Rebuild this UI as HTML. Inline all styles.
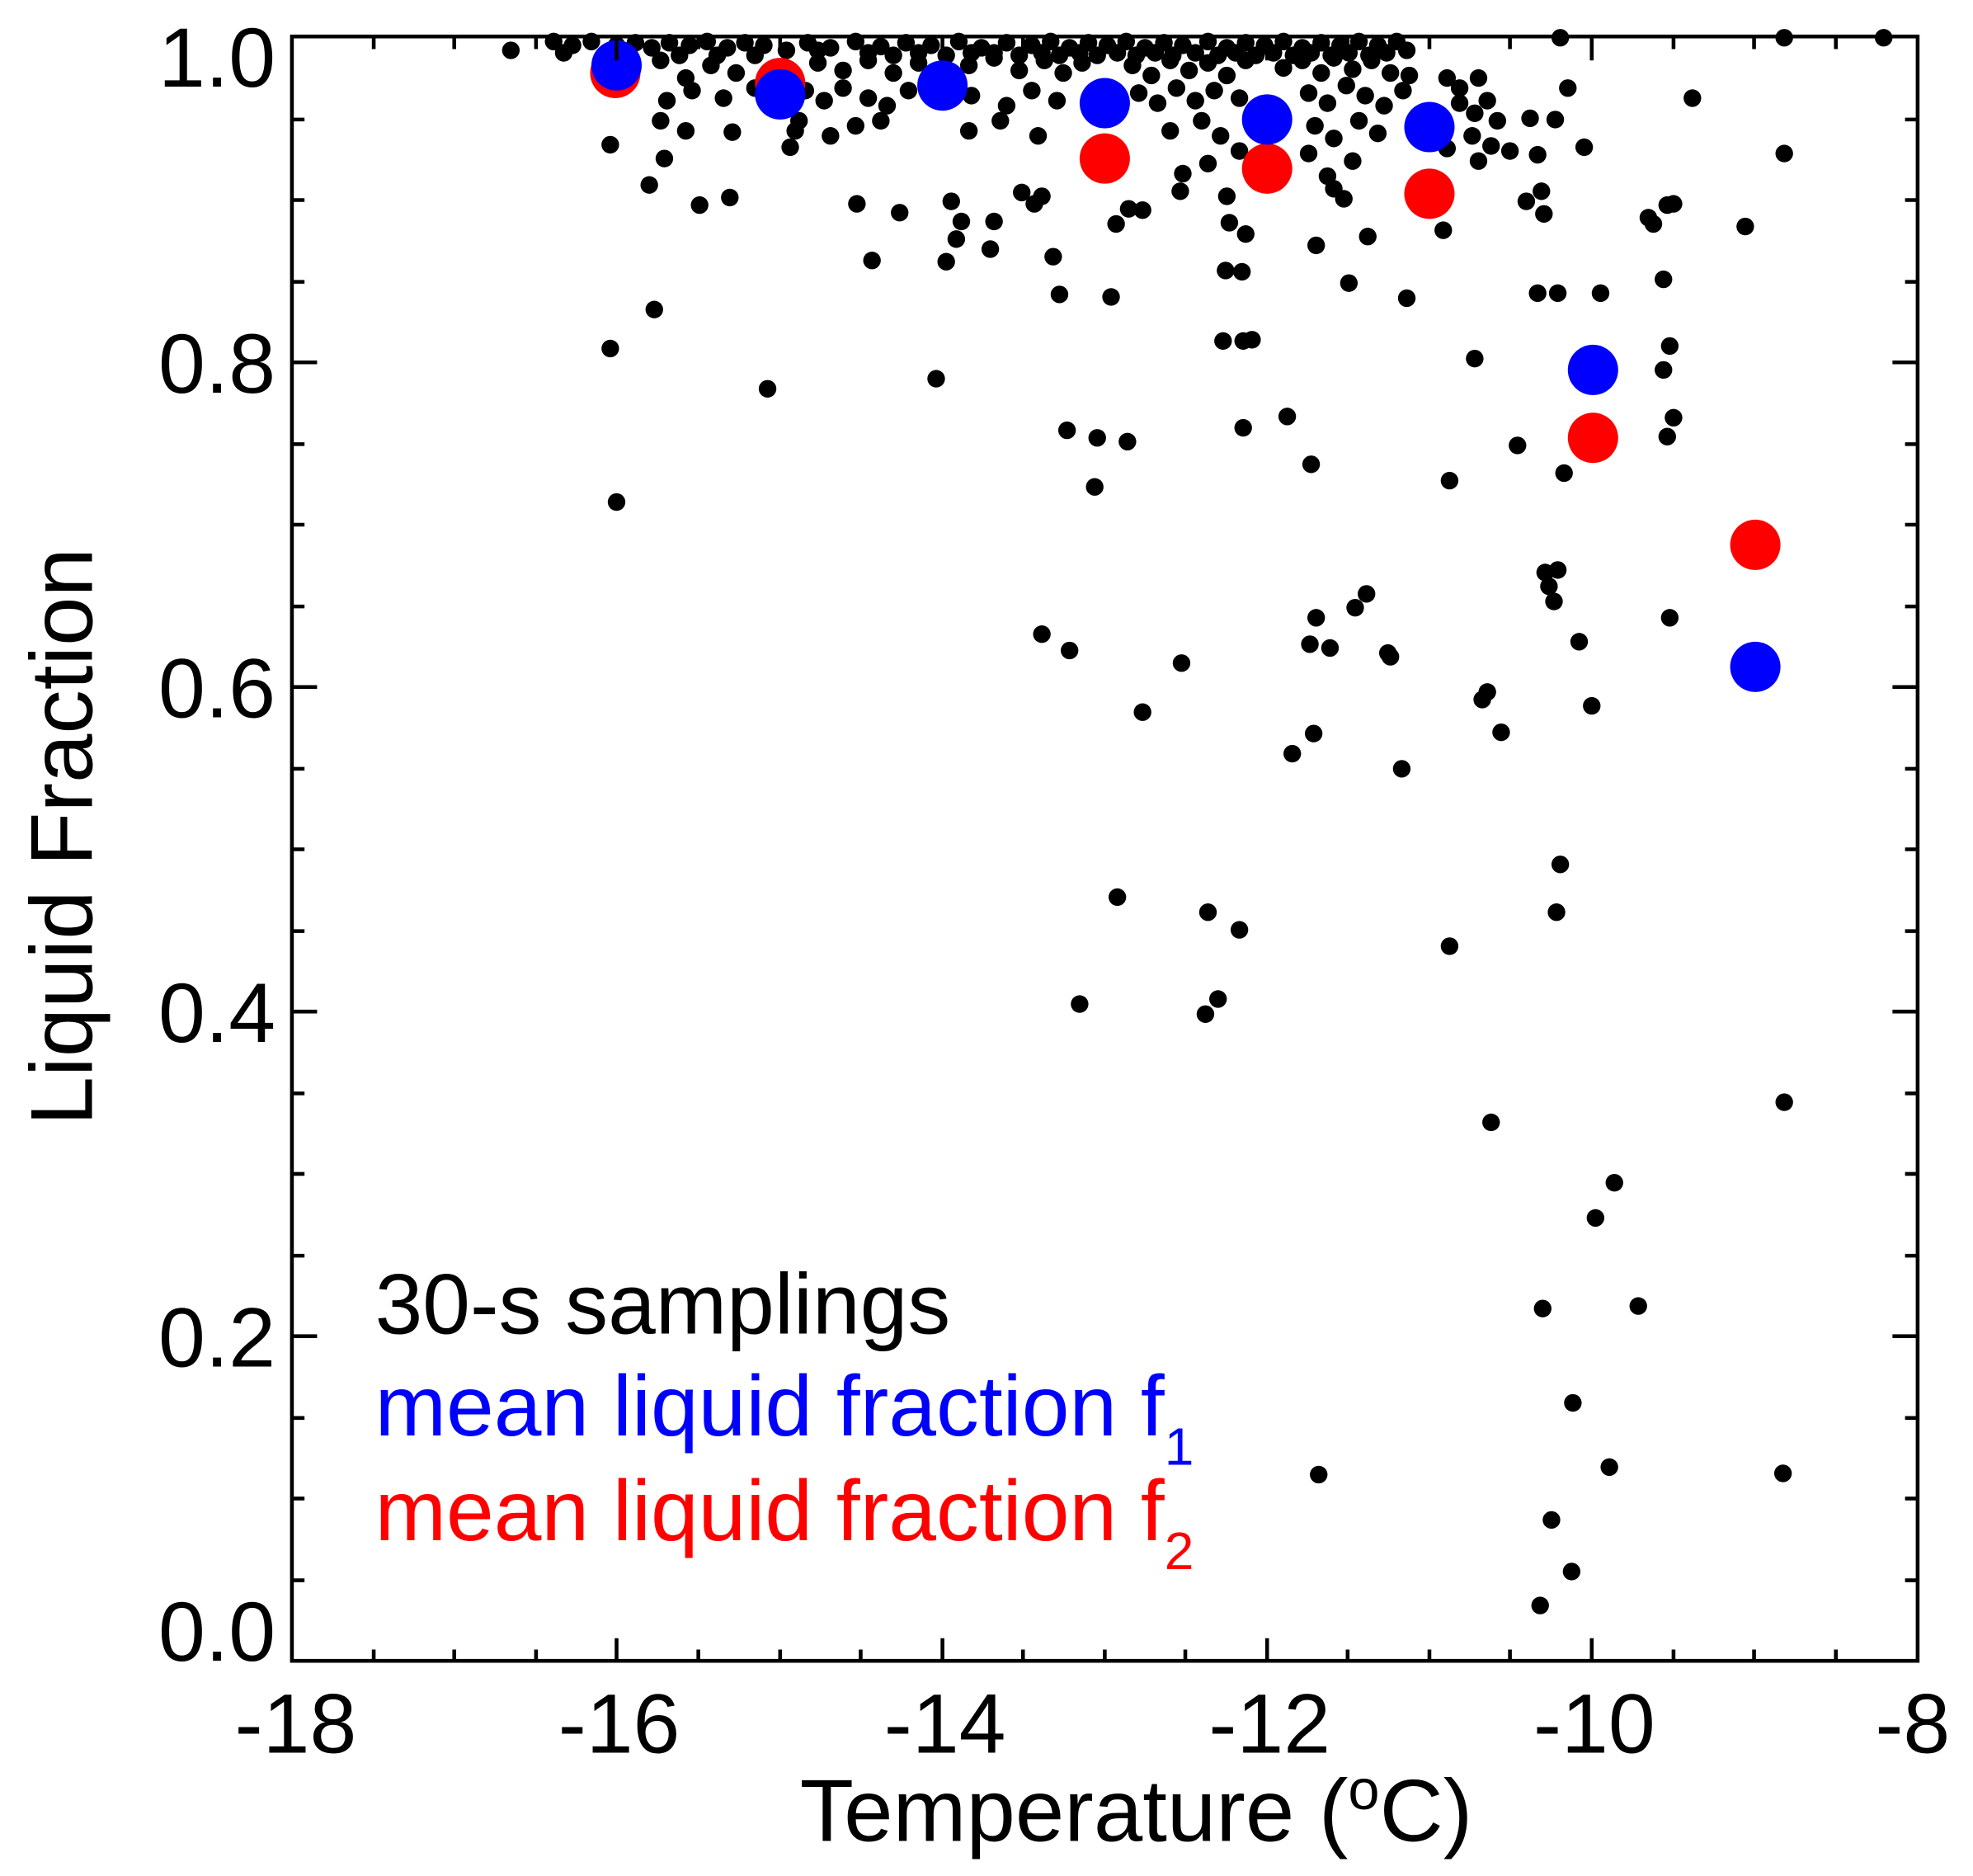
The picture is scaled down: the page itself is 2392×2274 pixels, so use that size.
<!DOCTYPE html>
<html><head><meta charset="utf-8"><style>
html,body{margin:0;padding:0;background:#fff;}
svg{display:block;}
text{font-family:"Liberation Sans",Arial,sans-serif;}
</style></head><body>
<svg width="2392" height="2274" viewBox="0 0 1568 1491" preserveAspectRatio="none" xmlns="http://www.w3.org/2000/svg">
<g fill="#000">
<!-- dense top band -->
<circle cx="440" cy="33" r="7"/><circle cx="455" cy="36" r="7"/><circle cx="470" cy="33" r="7"/><circle cx="505" cy="34" r="7"/><circle cx="518" cy="38" r="7"/><circle cx="532" cy="34" r="7"/><circle cx="548" cy="36" r="7"/><circle cx="562" cy="33" r="7"/><circle cx="578" cy="38" r="7"/><circle cx="592" cy="34" r="7"/><circle cx="607" cy="36" r="7"/><circle cx="642" cy="34" r="7"/><circle cx="660" cy="38" r="7"/><circle cx="680" cy="33" r="7"/><circle cx="700" cy="37" r="7"/><circle cx="720" cy="34" r="7"/><circle cx="740" cy="36" r="7"/><circle cx="762" cy="33" r="7"/><circle cx="780" cy="38" r="7"/><circle cx="800" cy="34" r="7"/><circle cx="820" cy="36" r="7"/><circle cx="835" cy="33" r="7"/><circle cx="850" cy="38" r="7"/><circle cx="865" cy="34" r="7"/><circle cx="880" cy="36" r="7"/><circle cx="895" cy="33" r="7"/><circle cx="910" cy="38" r="7"/><circle cx="925" cy="34" r="7"/><circle cx="940" cy="36" r="7"/><circle cx="960" cy="33" r="7"/><circle cx="975" cy="38" r="7"/><circle cx="990" cy="34" r="7"/><circle cx="1005" cy="36" r="7"/><circle cx="1020" cy="33" r="7"/><circle cx="1035" cy="38" r="7"/><circle cx="1050" cy="34" r="7"/><circle cx="1065" cy="36" r="7"/><circle cx="1080" cy="33" r="7"/><circle cx="1095" cy="36" r="7"/><circle cx="1110" cy="33" r="7"/>
<circle cx="448" cy="42" r="7"/><circle cx="490" cy="36" r="7"/><circle cx="540" cy="44" r="7"/><circle cx="570" cy="44" r="7"/><circle cx="600" cy="44" r="7"/><circle cx="625" cy="40" r="7"/><circle cx="650" cy="40" r="7"/><circle cx="690" cy="42" r="7"/><circle cx="710" cy="44" r="7"/><circle cx="730" cy="42" r="7"/><circle cx="752" cy="44" r="7"/><circle cx="772" cy="42" r="7"/><circle cx="790" cy="42" r="7"/><circle cx="810" cy="44" r="7"/><circle cx="828" cy="42" r="7"/><circle cx="842" cy="44" r="7"/><circle cx="858" cy="42" r="7"/><circle cx="872" cy="44" r="7"/><circle cx="888" cy="42" r="7"/><circle cx="903" cy="44" r="7"/><circle cx="918" cy="42" r="7"/><circle cx="932" cy="44" r="7"/><circle cx="950" cy="42" r="7"/><circle cx="968" cy="44" r="7"/><circle cx="982" cy="42" r="7"/><circle cx="998" cy="44" r="7"/><circle cx="1012" cy="42" r="7"/><circle cx="1028" cy="44" r="7"/><circle cx="1042" cy="42" r="7"/><circle cx="1058" cy="44" r="7"/><circle cx="1072" cy="42" r="7"/><circle cx="1088" cy="44" r="7"/><circle cx="1102" cy="42" r="7"/><circle cx="1118" cy="40" r="7"/>
<circle cx="525" cy="48" r="7"/><circle cx="545" cy="62" r="7"/><circle cx="565" cy="52" r="7"/><circle cx="585" cy="58" r="7"/><circle cx="650" cy="50" r="7"/><circle cx="670" cy="56" r="7"/><circle cx="690" cy="48" r="7"/><circle cx="710" cy="58" r="7"/><circle cx="730" cy="50" r="7"/><circle cx="770" cy="52" r="7"/><circle cx="790" cy="46" r="7"/><circle cx="810" cy="56" r="7"/><circle cx="830" cy="48" r="7"/><circle cx="845" cy="58" r="7"/><circle cx="860" cy="50" r="7"/><circle cx="900" cy="52" r="7"/><circle cx="915" cy="60" r="7"/><circle cx="930" cy="48" r="7"/><circle cx="945" cy="56" r="7"/><circle cx="960" cy="50" r="7"/><circle cx="975" cy="60" r="7"/><circle cx="990" cy="48" r="7"/><circle cx="1020" cy="54" r="7"/><circle cx="1035" cy="48" r="7"/><circle cx="1050" cy="58" r="7"/><circle cx="1060" cy="46" r="7"/><circle cx="1075" cy="55" r="7"/><circle cx="1090" cy="48" r="7"/><circle cx="1105" cy="58" r="7"/><circle cx="1120" cy="60" r="7"/><circle cx="1150" cy="62" r="7"/><circle cx="1160" cy="70" r="7"/><circle cx="1175" cy="62" r="7"/>
<circle cx="530" cy="80" r="7"/><circle cx="550" cy="72" r="7"/><circle cx="575" cy="78" r="7"/><circle cx="600" cy="70" r="7"/><circle cx="640" cy="72" r="7"/><circle cx="655" cy="80" r="7"/><circle cx="670" cy="70" r="7"/><circle cx="690" cy="78" r="7"/><circle cx="705" cy="84" r="7"/><circle cx="722" cy="72" r="7"/><circle cx="772" cy="76" r="7"/><circle cx="800" cy="84" r="7"/><circle cx="820" cy="72" r="7"/><circle cx="840" cy="80" r="7"/><circle cx="905" cy="74" r="7"/><circle cx="920" cy="82" r="7"/><circle cx="935" cy="70" r="7"/><circle cx="950" cy="80" r="7"/><circle cx="965" cy="72" r="7"/><circle cx="985" cy="78" r="7"/><circle cx="1040" cy="74" r="7"/><circle cx="1055" cy="82" r="7"/><circle cx="1070" cy="68" r="7"/><circle cx="1085" cy="76" r="7"/><circle cx="1100" cy="84" r="7"/><circle cx="1115" cy="72" r="7"/><circle cx="1160" cy="82" r="7"/><circle cx="1172" cy="90" r="7"/><circle cx="1182" cy="80" r="7"/><circle cx="1190" cy="96" r="7"/>
<circle cx="525" cy="96" r="7"/><circle cx="545" cy="104" r="7"/><circle cx="635" cy="96" r="7"/><circle cx="660" cy="108" r="7"/><circle cx="680" cy="100" r="7"/><circle cx="700" cy="96" r="7"/><circle cx="770" cy="104" r="7"/><circle cx="795" cy="96" r="7"/><circle cx="825" cy="108" r="7"/><circle cx="930" cy="104" r="7"/><circle cx="955" cy="96" r="7"/><circle cx="970" cy="108" r="7"/><circle cx="1045" cy="100" r="7"/><circle cx="1060" cy="110" r="7"/><circle cx="1080" cy="96" r="7"/><circle cx="1095" cy="106" r="7"/><circle cx="1170" cy="108" r="7"/><circle cx="1185" cy="116" r="7"/><circle cx="1075" cy="128" r="7"/><circle cx="1055" cy="140" r="7"/><circle cx="1040" cy="122" r="7"/><circle cx="1150" cy="118" r="7"/><circle cx="1175" cy="128" r="7"/><circle cx="985" cy="120" r="7"/><circle cx="960" cy="130" r="7"/>
<!-- sparse points -->
<circle cx="406" cy="40" r="7"/><circle cx="485" cy="115" r="7"/><circle cx="485" cy="277" r="7"/><circle cx="490" cy="399" r="7"/><circle cx="516" cy="147" r="7"/><circle cx="520" cy="246" r="7"/><circle cx="528" cy="126" r="7"/><circle cx="556" cy="163" r="7"/><circle cx="580" cy="157" r="7"/><circle cx="582" cy="105" r="7"/><circle cx="610" cy="309" r="7"/><circle cx="628" cy="117" r="7"/><circle cx="632" cy="104" r="7"/><circle cx="681" cy="162" r="7"/><circle cx="693" cy="207" r="7"/><circle cx="715" cy="169" r="7"/><circle cx="744" cy="301" r="7"/><circle cx="752" cy="208" r="7"/><circle cx="756" cy="160" r="7"/><circle cx="760" cy="190" r="7"/><circle cx="764" cy="176" r="7"/><circle cx="787" cy="198" r="7"/><circle cx="790" cy="176" r="7"/><circle cx="812" cy="153" r="7"/><circle cx="822" cy="162" r="7"/><circle cx="828" cy="156" r="7"/><circle cx="837" cy="204" r="7"/><circle cx="842" cy="234" r="7"/><circle cx="848" cy="342" r="7"/><circle cx="828" cy="504" r="7"/><circle cx="850" cy="517" r="7"/><circle cx="872" cy="348" r="7"/><circle cx="870" cy="387" r="7"/><circle cx="883" cy="236" r="7"/><circle cx="887" cy="178" r="7"/><circle cx="896" cy="351" r="7"/><circle cx="888" cy="713" r="7"/><circle cx="858" cy="798" r="7"/><circle cx="897" cy="166" r="7"/><circle cx="908" cy="167" r="7"/><circle cx="908" cy="566" r="7"/><circle cx="938" cy="152" r="7"/><circle cx="940" cy="138" r="7"/><circle cx="939" cy="527" r="7"/><circle cx="960" cy="725" r="7"/><circle cx="958" cy="806" r="7"/><circle cx="968" cy="794" r="7"/><circle cx="972" cy="271" r="7"/><circle cx="975" cy="156" r="7"/><circle cx="977" cy="177" r="7"/><circle cx="974" cy="215" r="7"/><circle cx="987" cy="216" r="7"/><circle cx="988" cy="340" r="7"/><circle cx="988" cy="271" r="7"/><circle cx="990" cy="186" r="7"/><circle cx="995" cy="270" r="7"/><circle cx="985" cy="739" r="7"/><circle cx="1023" cy="331" r="7"/><circle cx="1042" cy="369" r="7"/><circle cx="1046" cy="195" r="7"/><circle cx="1041" cy="512" r="7"/><circle cx="1046" cy="491" r="7"/><circle cx="1044" cy="583" r="7"/><circle cx="1027" cy="599" r="7"/><circle cx="1057" cy="515" r="7"/><circle cx="1060" cy="150" r="7"/><circle cx="1068" cy="158" r="7"/><circle cx="1077" cy="483" r="7"/><circle cx="1086" cy="472" r="7"/><circle cx="1072" cy="225" r="7"/><circle cx="1087" cy="188" r="7"/><circle cx="1103" cy="519" r="7"/><circle cx="1105" cy="522" r="7"/><circle cx="1114" cy="611" r="7"/><circle cx="1118" cy="237" r="7"/><circle cx="1147" cy="183" r="7"/><circle cx="1152" cy="382" r="7"/><circle cx="1152" cy="752" r="7"/><circle cx="1172" cy="285" r="7"/><circle cx="1178" cy="556" r="7"/><circle cx="1182" cy="550" r="7"/><circle cx="1185" cy="892" r="7"/><circle cx="1193" cy="582" r="7"/><circle cx="1206" cy="354" r="7"/><circle cx="1216" cy="94" r="7"/><circle cx="1222" cy="123" r="7"/><circle cx="1225" cy="152" r="7"/><circle cx="1222" cy="233" r="7"/><circle cx="1227" cy="170" r="7"/><circle cx="1238" cy="233" r="7"/><circle cx="1228" cy="455" r="7"/><circle cx="1231" cy="466" r="7"/><circle cx="1238" cy="453" r="7"/><circle cx="1235" cy="478" r="7"/><circle cx="1243" cy="376" r="7"/><circle cx="1255" cy="510" r="7"/><circle cx="1240" cy="687" r="7"/><circle cx="1237" cy="725" r="7"/><circle cx="1265" cy="561" r="7"/><circle cx="1272" cy="233" r="7"/><circle cx="1259" cy="117" r="7"/><circle cx="1246" cy="70" r="7"/><circle cx="1240" cy="30" r="7"/><circle cx="1236" cy="95" r="7"/><circle cx="1226" cy="1040" r="7"/><circle cx="1233" cy="1208" r="7"/><circle cx="1250" cy="1115" r="7"/><circle cx="1249" cy="1249" r="7"/><circle cx="1224" cy="1276" r="7"/><circle cx="1268" cy="968" r="7"/><circle cx="1283" cy="940" r="7"/><circle cx="1279" cy="1166" r="7"/><circle cx="1302" cy="1038" r="7"/><circle cx="1048" cy="1172" r="7"/><circle cx="1314" cy="178" r="7"/><circle cx="1310" cy="173" r="7"/><circle cx="1322" cy="222" r="7"/><circle cx="1325" cy="163" r="7"/><circle cx="1330" cy="162" r="7"/><circle cx="1327" cy="275" r="7"/><circle cx="1322" cy="294" r="7"/><circle cx="1330" cy="332" r="7"/><circle cx="1325" cy="347" r="7"/><circle cx="1327" cy="491" r="7"/><circle cx="1345" cy="78" r="7"/><circle cx="1387" cy="180" r="7"/><circle cx="1418" cy="122" r="7"/><circle cx="1418" cy="876" r="7"/><circle cx="1417" cy="1171" r="7"/><circle cx="1418" cy="30" r="7"/><circle cx="1497" cy="30" r="7"/><circle cx="1213" cy="160" r="7"/><circle cx="1200" cy="120" r="7"/>
</g>
<!-- means -->
<g fill="#ff0000">
<circle cx="489" cy="58" r="20"/><circle cx="620" cy="66" r="20"/><circle cx="878" cy="126" r="20"/><circle cx="1007" cy="134" r="20"/><circle cx="1136" cy="154" r="20"/><circle cx="1266" cy="348" r="20"/><circle cx="1395" cy="433" r="20"/>
</g>
<g fill="#0000ff">
<circle cx="490" cy="52" r="20"/><circle cx="620" cy="75" r="20"/><circle cx="749" cy="68" r="20"/><circle cx="878" cy="82" r="20"/><circle cx="1007" cy="95" r="20"/><circle cx="1136" cy="101" r="20"/><circle cx="1266" cy="294" r="20"/><circle cx="1395" cy="530" r="20"/>
</g>
<!-- axes -->
<rect x="232" y="29" width="1292" height="1291" fill="none" stroke="#000" stroke-width="3"/>
<g stroke="#000" stroke-width="3">
<path d="M297,1320v-9M361,1320v-9M426,1320v-9M555,1320v-9M620,1320v-9M684,1320v-9M813,1320v-9M878,1320v-9M942,1320v-9M1071,1320v-9M1136,1320v-9M1200,1320v-9M1330,1320v-9M1394,1320v-9M1459,1320v-9"/>
<path d="M490,1320v-18M749,1320v-18M1007,1320v-18M1265,1320v-18"/>
<path d="M297,30v9M361,30v9M426,30v9M555,30v9M620,30v9M684,30v9M813,30v9M878,30v9M942,30v9M1071,30v9M1136,30v9M1200,30v9M1330,30v9M1394,30v9M1459,30v9"/>
<path d="M490,30v18M749,30v18M1007,30v18M1265,30v18"/>
<path d="M232,1256h10M232,1191h10M232,1127h10M232,998h10M232,933h10M232,869h10M232,740h10M232,675h10M232,611h10M232,482h10M232,417h10M232,353h10M232,224h10M232,159h10M232,95h10"/>
<path d="M232,1062h20M232,804h20M232,546h20M232,288h20"/>
<path d="M1524,1256h-10M1524,1191h-10M1524,1127h-10M1524,998h-10M1524,933h-10M1524,869h-10M1524,740h-10M1524,675h-10M1524,611h-10M1524,482h-10M1524,417h-10M1524,353h-10M1524,224h-10M1524,159h-10M1524,95h-10"/>
<path d="M1524,1062h-20M1524,804h-20M1524,546h-20M1524,288h-20"/>
</g>
<g font-size="67" fill="#000">
<g text-anchor="end">
<text x="219" y="1320">0.0</text><text x="219" y="1086">0.2</text><text x="219" y="828">0.4</text><text x="219" y="570">0.6</text><text x="219" y="312">0.8</text><text x="219" y="69">1.0</text>
</g>
<g text-anchor="middle">
<text x="235" y="1393">-18</text><text x="492" y="1393">-16</text><text x="751" y="1393">-14</text><text x="1009" y="1393">-12</text><text x="1267" y="1393">-10</text><text x="1520" y="1393">-8</text>
<text x="903" y="1463" font-size="70">Temperature (<tspan font-size="45" dy="-25">o</tspan><tspan dy="25">C)</tspan></text>
<text transform="translate(73,665) rotate(-90)" font-size="70">Liquid Fraction</text>
</g>
<text x="298" y="1060" font-size="68">30-s samplings</text>
<text x="298" y="1141" font-size="68" fill="#0000ff">mean liquid fraction f<tspan font-size="42" dy="23">1</tspan></text>
<text x="298" y="1224" font-size="68" fill="#ff0000">mean liquid fraction f<tspan font-size="42" dy="23">2</tspan></text>
</g>
</svg>
</body></html>
